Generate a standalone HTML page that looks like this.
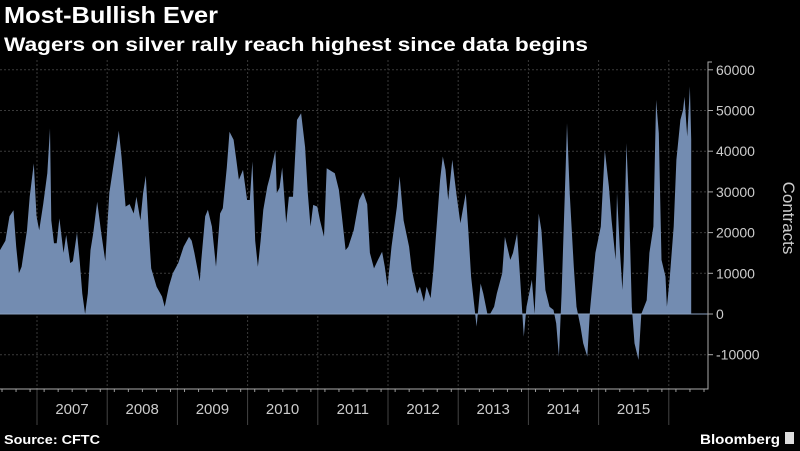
<!DOCTYPE html>
<html><head><meta charset="utf-8"><style>
body{margin:0;background:#000;width:800px;height:451px;overflow:hidden;font-family:"Liberation Sans",sans-serif}
svg{display:block}
</style></head><body>
<svg id="chart" width="800" height="451" xmlns="http://www.w3.org/2000/svg">
<rect width="800" height="451" fill="#000"/>
<text x="4" y="23" fill="#fff" font-size="23" font-weight="bold" textLength="214" lengthAdjust="spacingAndGlyphs">Most-Bullish Ever</text>
<text x="4" y="51" fill="#fff" font-size="19" font-weight="bold" textLength="584" lengthAdjust="spacingAndGlyphs">Wagers on silver rally reach highest since data begins</text>
<g id="grid"></g>
<g id="area"></g>
<g id="axes"></g>
<text transform="translate(783,218) rotate(90)" text-anchor="middle" fill="#ccc" font-size="17">Contracts</text>
<text x="4" y="444" fill="#fff" font-size="13" font-weight="bold" textLength="96" lengthAdjust="spacingAndGlyphs">Source: CFTC</text>
<text x="700" y="444" fill="#fff" font-size="14" font-weight="bold" textLength="80" lengthAdjust="spacingAndGlyphs">Bloomberg</text>
<rect x="785" y="432" width="9" height="12" fill="#ddd"/>
</svg>
<script>
const series=[[0,15.7],[4,18],[7,24],[10,25.5],[12,16.5],[14,10],[16,11.6],[20,20.6],[22,28.8],[25,37],[27,24],[29,20.6],[32,27],[35,34.6],[37,45.6],[38,23],[40,17.4],[42,17.4],[44,23.5],[47,15],[49,19.4],[52,12.5],[54,13],[57,20],[59,13],[61,5],[63,0],[65,5],[67,15.7],[69,19.8],[72,27.6],[75,19.8],[78,13],[81,29.7],[85,38.7],[88,45],[90,38.7],[93,26.4],[96,27],[99,24.7],[101,28.8],[104,23],[106,29.7],[108,34],[110,21.5],[112,11.2],[116,6.7],[120,4.3],[122,1.8],[125,6.7],[128,10],[132,12.5],[136,16.5],[140,19],[142,18],[144,15],[148,8],[149,13],[152,24],[154,25.6],[157,21.5],[160,11.6],[163,24.7],[165,26],[168,36],[170,44.8],[173,42.8],[175,37.9],[177,33],[180,35.4],[183,28],[185,28],[187,37.5],[189,18],[191,11.6],[193,18],[195,25.6],[198,31.3],[200,33.8],[204,40.3],[205,29.7],[207,31],[209,36],[212,22.3],[214,28.8],[217,28.8],[220,47.7],[223,49.3],[226,41],[228,29.7],[230,21.5],[232,26.8],[235,26.4],[237,23],[240,19],[242,35.8],[246,35],[248,34.6],[251,30.5],[253,24.7],[256,15.7],[258,16.5],
[262,20.6],[266,28],[269,30],[272,27],[274,15],[277,11.2],[280,13.3],[283,15.3],[285,11.6],[287,6.7],[290,16.5],[294,26.4],[296,33.8],[299,23],[303,16.5],[305,10.8],[309,5],[311,6.7],[314,3],[316,6.7],[319,3.9],[321,10.8],[324,24],[326,33],[328,38.7],[330,35.4],[332,28],[335,37.9],[338,29.7],[341,22.3],[345,29.7],[347,19.8],[349,9.2],[352,0],[353,-3.1],[356,7.5],[358,5],[361,0],[363,0],[366,1.8],[368,5],[372,10],[374,19],[378,13.3],[380,15],[383,19.8],[385,10],[388,-5.6],[390,1.8],[394,8.4],[396,0],[399,24.7],[401,20.6],[404,5.9],[407,1.8],[410,1],[412,-2.3],[414,-10.5],[416,5],[419,36.2],[420,46.9],[422,29.7],[425,11.6],[427,1.8],[430,-3.1],[432,-7.2],[435,-10.5],[437,1],[441,15],[445,21.5],[448,40.3],[451,31.3],[453,23],[456,13.3],[457,29.7],[459,16.5],[461,5.9],[462,13],[464,42],[466,26.4],[468,1.8],[470,-7.2],[473,-11.3],[475,0],[479,3.4],[481,15],[484,21.5],[486,52.6],[488,44.4],[490,13.3],[493,9.2],[494,1.8],[496,8.4],[499,21.5],[501,37.9],[504,47.7],[506,50.2],[507,53.4],[509,43.6],[511,55.9],[512,42.8]];
const yTicks=[60000,50000,40000,30000,20000,10000,0,-10000];
const yearLabels=['2007','2008','2009','2010','2011','2012','2013','2014','2015'];
const NS='http://www.w3.org/2000/svg';
const xW=w=>w*70.2/52;
const yV=v=>314-v*40.7/10000;
const yearX=i=>37+i*70.2;
function mk(tag,attrs,parent){const e=document.createElementNS(NS,tag);for(const k in attrs)e.setAttribute(k,attrs[k]);parent.appendChild(e);return e;}
const grid=document.getElementById('grid'),axes=document.getElementById('axes'),area=document.getElementById('area');
yTicks.forEach(t=>{
  const l=mk('line',{x1:0,x2:708,y1:yV(t),y2:yV(t),stroke:'#3a3a3a','stroke-dasharray':'2,2'},grid);
  
  
  const tk=mk('line',{x1:708,x2:713,y1:yV(t),y2:yV(t),stroke:'#aaa'},axes);
  
  
  const tx=mk('text',{x:716,y:yV(t)+5,fill:'#ccc','font-size':'14'},axes);
  tx.textContent=String(t);
  
  
});
for(let i=0;i<=yearLabels.length;i++){
  const l=mk('line',{x1:yearX(i),x2:yearX(i),y1:60,y2:389,stroke:'#3a3a3a','stroke-dasharray':'2,2'},grid);
  
  
  const d=mk('line',{x1:yearX(i),x2:yearX(i),y1:389,y2:425,stroke:'#444'},axes);
  
  
}
for(let x=2;x<708;x+=14.04){
  const m=mk('line',{x1:x,x2:x,y1:389,y2:392,stroke:'#999'},axes);
  
  
}
yearLabels.forEach((y,i)=>{
  const t=mk('text',{x:yearX(i)+35,y:414,fill:'#ccc','font-size':'15','text-anchor':'middle'},axes);
  t.textContent=y;
  
  
});
const first=series[0][0], last=series[series.length-1][0];
let pts=xW(first).toFixed(1)+','+yV(0).toFixed(1);
series.forEach(d=>{pts+=' '+xW(d[0]).toFixed(1)+','+yV(d[1]*1000).toFixed(1);});
pts+=' '+xW(last).toFixed(1)+','+yV(0).toFixed(1);
const p=mk('polygon',{points:pts,fill:'#738cb1'},area);


const zl=mk('line',{x1:0,x2:708,y1:yV(0),y2:yV(0),stroke:'#8aa0c0','stroke-width':'1'},axes);


const ax=mk('path',{d:'M0,389 H708 V62 H712',fill:'none',stroke:'#aaa'},axes);


</script>
</body></html>
